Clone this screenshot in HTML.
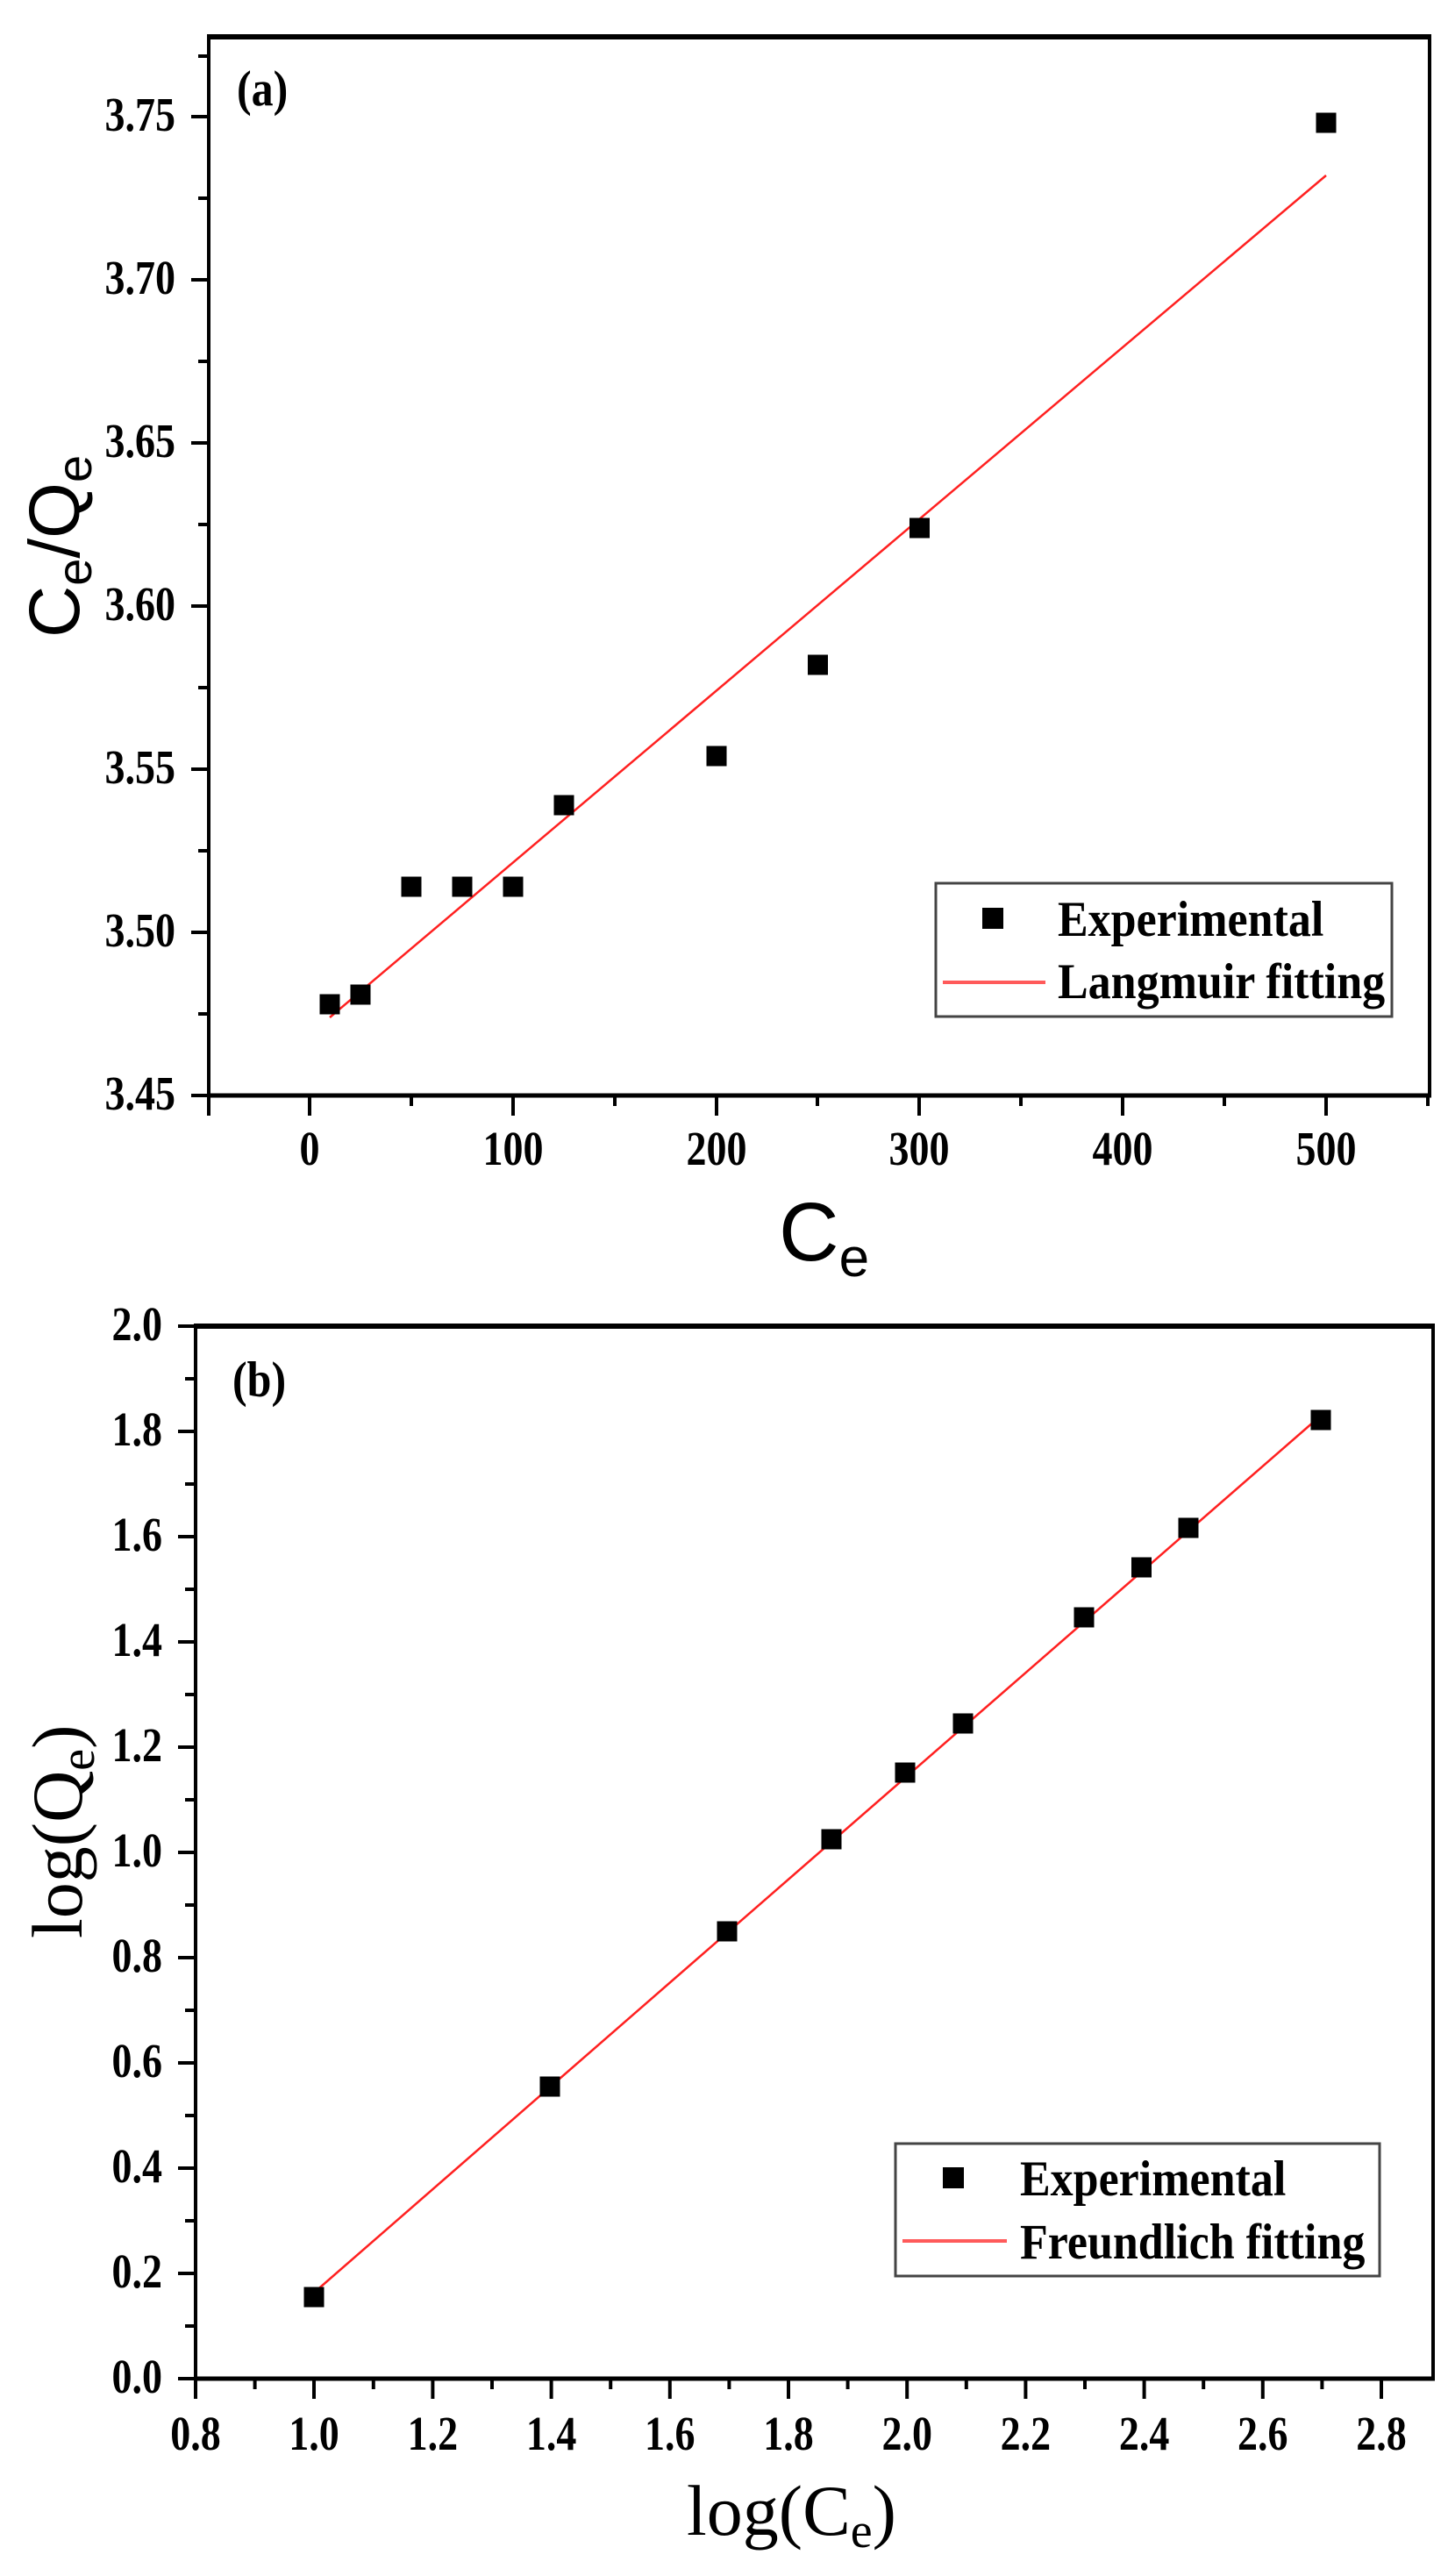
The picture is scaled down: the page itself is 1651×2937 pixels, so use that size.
<!DOCTYPE html>
<html><head><meta charset="utf-8"><style>
html,body{margin:0;padding:0;background:#fff;}
svg{display:block;}
.tk{font-family:"Liberation Serif",serif;font-weight:bold;font-size:46px;fill:#000;}
.lg{font-family:"Liberation Serif",serif;font-weight:bold;font-size:52px;fill:#000;}
</style></head><body>
<svg width="1651" height="2937" viewBox="0 0 1651 2937" xmlns="http://www.w3.org/2000/svg">
<!-- ===== Plot (a) ===== -->
<g stroke="#000" fill="none">
<rect x="238" y="42" width="1392" height="1207" stroke-width="4"/>
<line x1="236" y1="42" x2="1632" y2="42" stroke-width="6"/>
<line x1="236" y1="1249" x2="1632" y2="1249" stroke-width="5"/>
<!-- y ticks -->
<g stroke-width="4">
<line x1="218" y1="1249" x2="238" y2="1249"/><line x1="226" y1="1156" x2="238" y2="1156"/>
<line x1="218" y1="1063" x2="238" y2="1063"/><line x1="226" y1="970" x2="238" y2="970"/>
<line x1="218" y1="877" x2="238" y2="877"/><line x1="226" y1="784" x2="238" y2="784"/>
<line x1="218" y1="691" x2="238" y2="691"/><line x1="226" y1="598" x2="238" y2="598"/>
<line x1="218" y1="505" x2="238" y2="505"/><line x1="226" y1="412" x2="238" y2="412"/>
<line x1="218" y1="319" x2="238" y2="319"/><line x1="226" y1="226" x2="238" y2="226"/>
<line x1="218" y1="133" x2="238" y2="133"/><line x1="226" y1="64" x2="238" y2="64"/>
</g>
<!-- x ticks -->
<g stroke-width="4">
<line x1="238" y1="1249" x2="238" y2="1272"/>
<line x1="353" y1="1249" x2="353" y2="1272"/><line x1="469" y1="1249" x2="469" y2="1261"/>
<line x1="585" y1="1249" x2="585" y2="1272"/><line x1="701" y1="1249" x2="701" y2="1261"/>
<line x1="817" y1="1249" x2="817" y2="1272"/><line x1="932" y1="1249" x2="932" y2="1261"/>
<line x1="1048" y1="1249" x2="1048" y2="1272"/><line x1="1164" y1="1249" x2="1164" y2="1261"/>
<line x1="1280" y1="1249" x2="1280" y2="1272"/><line x1="1396" y1="1249" x2="1396" y2="1261"/>
<line x1="1512" y1="1249" x2="1512" y2="1272"/><line x1="1628" y1="1249" x2="1628" y2="1261"/>
</g>
</g>
<g class="tk" text-anchor="end">
<text transform="translate(200,1265) scale(1,1.2)">3.45</text>
<text transform="translate(200,1079) scale(1,1.2)">3.50</text>
<text transform="translate(200,893) scale(1,1.2)">3.55</text>
<text transform="translate(200,707) scale(1,1.2)">3.60</text>
<text transform="translate(200,521) scale(1,1.2)">3.65</text>
<text transform="translate(200,335) scale(1,1.2)">3.70</text>
<text transform="translate(200,149) scale(1,1.2)">3.75</text>
</g>
<g class="tk" text-anchor="middle">
<text transform="translate(353,1328) scale(1,1.2)">0</text>
<text transform="translate(585,1328) scale(1,1.2)">100</text>
<text transform="translate(817,1328) scale(1,1.2)">200</text>
<text transform="translate(1048,1328) scale(1,1.2)">300</text>
<text transform="translate(1280,1328) scale(1,1.2)">400</text>
<text transform="translate(1512,1328) scale(1,1.2)">500</text>
</g>
<text transform="translate(270,120) scale(1,1.15)" font-family="Liberation Serif,serif" font-weight="bold" font-size="50">(a)</text>
<text x="888" y="1437" font-family="Liberation Sans,DejaVu Sans,sans-serif" font-size="95">C<tspan font-size="62" dy="18">e</tspan></text>
<text transform="translate(90,727) rotate(-90)" font-family="Liberation Sans,DejaVu Sans,sans-serif" font-size="82">C<tspan font-size="56" dy="14">e</tspan><tspan dy="-14">/Q</tspan><tspan font-size="56" dy="14">e</tspan></text>
<line x1="376" y1="1160" x2="1512" y2="200" stroke="#ff2020" stroke-width="2.5"/>
<g fill="#000">
<rect x="364.5" y="1133.5" width="23" height="23"/>
<rect x="399.5" y="1122.5" width="23" height="23"/>
<rect x="457.5" y="999.5" width="23" height="23"/>
<rect x="515.5" y="999.5" width="23" height="23"/>
<rect x="573.5" y="999.5" width="23" height="23"/>
<rect x="631.5" y="906.5" width="23" height="23"/>
<rect x="805.5" y="850.5" width="23" height="23"/>
<rect x="921" y="746.5" width="23" height="23"/>
<rect x="1037" y="590.5" width="23" height="23"/>
<rect x="1500.5" y="128.5" width="23" height="23"/>
</g>
<rect x="1067" y="1007" width="520" height="152" fill="#fff" stroke="#444" stroke-width="3"/>
<rect x="1120" y="1035" width="24" height="24" fill="#000"/>
<line x1="1075" y1="1120" x2="1192" y2="1120" stroke="#ff5a5a" stroke-width="4"/>
<text class="lg" transform="translate(1206,1067) scale(1,1.1)">Experimental</text>
<text class="lg" transform="translate(1206,1138) scale(1,1.1)">Langmuir fitting</text>

<!-- ===== Plot (b) ===== -->
<g stroke="#000" fill="none">
<rect x="223" y="1512" width="1411" height="1200" stroke-width="4"/>
<line x1="221" y1="1512" x2="1636" y2="1512" stroke-width="6"/>
<line x1="221" y1="2712" x2="1636" y2="2712" stroke-width="5"/>
<g stroke-width="4">
<line x1="203" y1="2712" x2="223" y2="2712"/><line x1="211" y1="2652" x2="223" y2="2652"/>
<line x1="203" y1="2592" x2="223" y2="2592"/><line x1="211" y1="2532" x2="223" y2="2532"/>
<line x1="203" y1="2472" x2="223" y2="2472"/><line x1="211" y1="2412" x2="223" y2="2412"/>
<line x1="203" y1="2352" x2="223" y2="2352"/><line x1="211" y1="2292" x2="223" y2="2292"/>
<line x1="203" y1="2232" x2="223" y2="2232"/><line x1="211" y1="2172" x2="223" y2="2172"/>
<line x1="203" y1="2112" x2="223" y2="2112"/><line x1="211" y1="2052" x2="223" y2="2052"/>
<line x1="203" y1="1992" x2="223" y2="1992"/><line x1="211" y1="1932" x2="223" y2="1932"/>
<line x1="203" y1="1872" x2="223" y2="1872"/><line x1="211" y1="1812" x2="223" y2="1812"/>
<line x1="203" y1="1752" x2="223" y2="1752"/><line x1="211" y1="1692" x2="223" y2="1692"/>
<line x1="203" y1="1632" x2="223" y2="1632"/><line x1="211" y1="1572" x2="223" y2="1572"/>
<line x1="203" y1="1512" x2="223" y2="1512"/>
</g>
<g stroke-width="4">
<line x1="223" y1="2712" x2="223" y2="2735"/><line x1="290.6" y1="2712" x2="290.6" y2="2724"/>
<line x1="358" y1="2712" x2="358" y2="2735"/><line x1="425.8" y1="2712" x2="425.8" y2="2724"/>
<line x1="493.4" y1="2712" x2="493.4" y2="2735"/><line x1="561" y1="2712" x2="561" y2="2724"/>
<line x1="628.6" y1="2712" x2="628.6" y2="2735"/><line x1="696.2" y1="2712" x2="696.2" y2="2724"/>
<line x1="763.8" y1="2712" x2="763.8" y2="2735"/><line x1="831.4" y1="2712" x2="831.4" y2="2724"/>
<line x1="899" y1="2712" x2="899" y2="2735"/><line x1="966.6" y1="2712" x2="966.6" y2="2724"/>
<line x1="1034.2" y1="2712" x2="1034.2" y2="2735"/><line x1="1101.8" y1="2712" x2="1101.8" y2="2724"/>
<line x1="1169.4" y1="2712" x2="1169.4" y2="2735"/><line x1="1237" y1="2712" x2="1237" y2="2724"/>
<line x1="1304.6" y1="2712" x2="1304.6" y2="2735"/><line x1="1372.2" y1="2712" x2="1372.2" y2="2724"/>
<line x1="1439.8" y1="2712" x2="1439.8" y2="2735"/><line x1="1507.4" y1="2712" x2="1507.4" y2="2724"/>
<line x1="1575" y1="2712" x2="1575" y2="2735"/>
</g>
</g>
<g class="tk" text-anchor="end">
<text transform="translate(185,2728) scale(1,1.2)">0.0</text>
<text transform="translate(185,2608) scale(1,1.2)">0.2</text>
<text transform="translate(185,2488) scale(1,1.2)">0.4</text>
<text transform="translate(185,2368) scale(1,1.2)">0.6</text>
<text transform="translate(185,2248) scale(1,1.2)">0.8</text>
<text transform="translate(185,2128) scale(1,1.2)">1.0</text>
<text transform="translate(185,2008) scale(1,1.2)">1.2</text>
<text transform="translate(185,1888) scale(1,1.2)">1.4</text>
<text transform="translate(185,1768) scale(1,1.2)">1.6</text>
<text transform="translate(185,1648) scale(1,1.2)">1.8</text>
<text transform="translate(185,1528) scale(1,1.2)">2.0</text>
</g>
<g class="tk" text-anchor="middle">
<text transform="translate(223,2793) scale(1,1.2)">0.8</text>
<text transform="translate(358,2793) scale(1,1.2)">1.0</text>
<text transform="translate(493.4,2793) scale(1,1.2)">1.2</text>
<text transform="translate(628.6,2793) scale(1,1.2)">1.4</text>
<text transform="translate(763.8,2793) scale(1,1.2)">1.6</text>
<text transform="translate(899,2793) scale(1,1.2)">1.8</text>
<text transform="translate(1034.2,2793) scale(1,1.2)">2.0</text>
<text transform="translate(1169.4,2793) scale(1,1.2)">2.2</text>
<text transform="translate(1304.6,2793) scale(1,1.2)">2.4</text>
<text transform="translate(1439.8,2793) scale(1,1.2)">2.6</text>
<text transform="translate(1575,2793) scale(1,1.2)">2.8</text>
</g>
<text transform="translate(265,1592) scale(1,1.15)" font-family="Liberation Serif,serif" font-weight="bold" font-size="50">(b)</text>
<text x="783" y="2890" font-family="Liberation Serif,serif" font-size="82">log(C<tspan font-size="56" dy="14">e</tspan><tspan dy="-14">)</tspan></text>
<text transform="translate(93,2210) rotate(-90)" font-family="Liberation Serif,serif" font-size="82">log(Q<tspan font-size="56" dy="14">e</tspan><tspan dy="-14">)</tspan></text>
<line x1="358" y1="2614" x2="1506" y2="1614" stroke="#ff2020" stroke-width="2.5"/>
<g fill="#000">
<rect x="346.5" y="2607.5" width="23" height="23"/>
<rect x="615.5" y="2367.5" width="23" height="23"/>
<rect x="817.5" y="2190.5" width="23" height="23"/>
<rect x="936.5" y="2085.5" width="23" height="23"/>
<rect x="1020.5" y="2009.5" width="23" height="23"/>
<rect x="1086.5" y="1953.5" width="23" height="23"/>
<rect x="1224.5" y="1832.5" width="23" height="23"/>
<rect x="1290" y="1775.5" width="23" height="23"/>
<rect x="1343.5" y="1730.5" width="23" height="23"/>
<rect x="1494.5" y="1607.5" width="23" height="23"/>
</g>
<rect x="1021" y="2444" width="552" height="151" fill="#fff" stroke="#444" stroke-width="3"/>
<rect x="1075" y="2471" width="24" height="24" fill="#000"/>
<line x1="1029" y1="2555" x2="1148" y2="2555" stroke="#ff5a5a" stroke-width="4"/>
<text class="lg" transform="translate(1163,2503) scale(1,1.1)">Experimental</text>
<text class="lg" transform="translate(1163,2575) scale(1,1.1)">Freundlich fitting</text>
</svg>
</body></html>
